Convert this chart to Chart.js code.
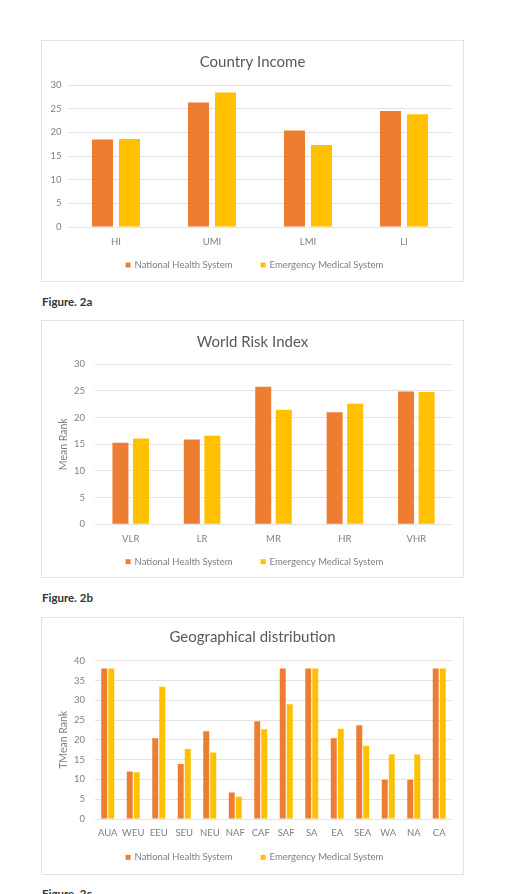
<!DOCTYPE html>
<html><head><meta charset="utf-8">
<script src="https://cdn.jsdelivr.net/npm/chart.js@4.4.1/dist/chart.umd.min.js"></script>
<style>
html,body{margin:0;padding:0;background:#fff;width:508px;height:894px;overflow:hidden;}
.box{position:absolute;left:41px;width:423px;border:1px solid #e2e2e2;box-sizing:border-box;background:#fff;}
.box canvas{display:block;}
.fig{position:absolute;left:42px;font:bold 11.5px Lato,sans-serif;line-height:12px;color:#333;white-space:nowrap;}
</style></head><body>
<div class="box" style="top:40px;height:242px"><canvas id="c1"></canvas></div>
<div class="fig" style="top:296px">Figure. 2a</div>
<div class="box" style="top:320px;height:258px"><canvas id="c2"></canvas></div>
<div class="fig" style="top:592px">Figure. 2b</div>
<div class="box" style="top:617px;height:258px"><canvas id="c3"></canvas></div>
<div class="fig" style="top:888px">Figure. 2c</div>
<script>
// ---- data ----
const seriesNames = ['National Health System', 'Emergency Medical System'];

const incomeLabels = ['HI', 'UMI', 'LMI', 'LI'];
const incomeNHS = [18.5, 26.3, 20.4, 24.5];
const incomeEMS = [18.6, 28.4, 17.3, 23.8];
const incomeTicks = [0, 5, 10, 15, 20, 25, 30];

const riskLabels = ['VLR', 'LR', 'MR', 'HR', 'VHR'];
const riskNHS = [15.3, 15.9, 25.8, 21.0, 24.9];
const riskEMS = [16.1, 16.6, 21.5, 22.6, 24.8];
const riskTicks = [0, 5, 10, 15, 20, 25, 30];

const geoLabels = ['AUA', 'WEU', 'EEU', 'SEU', 'NEU', 'NAF', 'CAF', 'SAF', 'SA', 'EA', 'SEA', 'WA', 'NA', 'CA'];
const geoNHS = [38, 12, 20.4, 13.9, 22.2, 6.7, 24.7, 38, 38, 20.4, 23.7, 9.9, 9.9, 38];
const geoEMS = [38, 11.8, 33.4, 17.7, 16.8, 5.6, 22.7, 29.0, 38, 22.8, 18.5, 16.3, 16.3, 38];
const geoTicks = [0, 5, 10, 15, 20, 25, 30, 35, 40];

// ---- drawing ----
const FONT = 'Lato';
const ORANGE = '#ED7D31';
const GOLD = '#FFC000';
const GRID = '#e2e2e2';
const TXT = '#7f7f7f';

// legend drawn with a small square swatch and a wide gap between items
const swatchLegend = {
  id: 'swatchLegend',
  afterDraw(chart, args, opts) {
    const ctx = chart.ctx;
    const ds = chart.data.datasets;
    ctx.save();
    ctx.font = opts.size + 'px ' + FONT;
    const box = opts.box, gapBT = opts.gapBT, gap = opts.gap;
    const widths = ds.map(d => box + gapBT + ctx.measureText(d.label).width);
    const total = widths.reduce((a, b) => a + b, 0) + gap * (ds.length - 1);
    let x = (chart.width - total) / 2 + opts.dx;
    const y = chart.height - opts.fromBottom;
    ctx.textBaseline = 'middle';
    ctx.textAlign = 'left';
    ds.forEach((d, i) => {
      ctx.fillStyle = d.backgroundColor;
      ctx.fillRect(x, y - box / 2, box, box);
      ctx.fillStyle = opts.color;
      ctx.fillText(d.label, x + box + gapBT, y);
      x += widths[i] + gap;
    });
    ctx.restore();
  }
};

function makeChart(id, title, labels, nhs, ems, ticks, yTitle, o) {
  const step = ticks[1] - ticks[0];
  return new Chart(document.getElementById(id), {
    type: 'bar',
    data: {
      labels: labels,
      datasets: [
        { label: seriesNames[0], data: nhs, backgroundColor: ORANGE, borderWidth: 0,
          categoryPercentage: o.cat, barPercentage: o.bar },
        { label: seriesNames[1], data: ems, backgroundColor: GOLD, borderWidth: 0,
          categoryPercentage: o.cat, barPercentage: o.bar }
      ]
    },
    plugins: [swatchLegend],
    options: {
      responsive: true,
      maintainAspectRatio: false,
      animation: false,
      layout: { padding: { left: 0, right: 0, top: 0, bottom: o.padB } },
      plugins: {
        title: { display: true, text: title, color: '#595959',
          font: { family: FONT, size: 15, weight: 'normal' },
          padding: { top: o.tT, bottom: o.tB } },
        legend: { display: false },
        swatchLegend: { size: 9.5, box: 5, gapBT: 4, gap: 28, color: TXT, dx: 2, fromBottom: o.legB },
        tooltip: { enabled: false }
      },
      scales: {
        x: {
          grid: { display: false, drawTicks: false },
          border: { display: false },
          ticks: { color: TXT, font: { family: FONT, size: 9.5 }, padding: o.xPad, maxRotation: 0, autoSkip: false },
          afterFit: s => { s.height = o.xH; }
        },
        y: {
          min: ticks[0], max: ticks[ticks.length - 1],
          grid: { color: GRID, lineWidth: 1, drawTicks: false },
          border: { display: false },
          ticks: { stepSize: step, color: TXT, font: { family: FONT, size: 9.5 }, padding: o.yPad },
          title: yTitle ? { display: true, text: yTitle, color: TXT,
            font: { family: FONT, size: 10.5 }, padding: { top: o.ytPad, bottom: 0 } } : { display: false },
          afterFit: s => { s.width = o.yW; }
        },
        yRightSpace: {
          axis: 'y', position: 'right', display: true,
          grid: { display: false, drawTicks: false },
          border: { display: false },
          ticks: { display: false },
          afterFit: s => { s.width = o.padR; }
        }
      }
    }
  });
}

makeChart('c1', 'Country Income', incomeLabels, incomeNHS, incomeEMS, incomeTicks, null,
  { cat: 0.5625, bar: 0.78, padR: 11, padB: 24, tT: 11.7, tB: 14.3, xH: 30, xPad: 9, legB: 16, yW: 26, yPad: 6.5 });
makeChart('c2', 'World Risk Index', riskLabels, riskNHS, riskEMS, riskTicks, 'Mean Rank',
  { cat: 0.575, bar: 0.78, padR: 11, padB: 22.7, tT: 11.7, tB: 13.6, xH: 30, xPad: 9.3, legB: 15.3, yW: 53, yPad: 10, ytPad: 15 });
makeChart('c3', 'Geographical distribution', geoLabels, geoNHS, geoEMS, geoTicks, 'TMean Rank',
  { cat: 0.55, bar: 0.85, padR: 11, padB: 25, tT: 10.3, tB: 14.4, xH: 30, xPad: 8, legB: 16.7, yW: 53, yPad: 10, ytPad: 15 });
</script>
</body></html>
